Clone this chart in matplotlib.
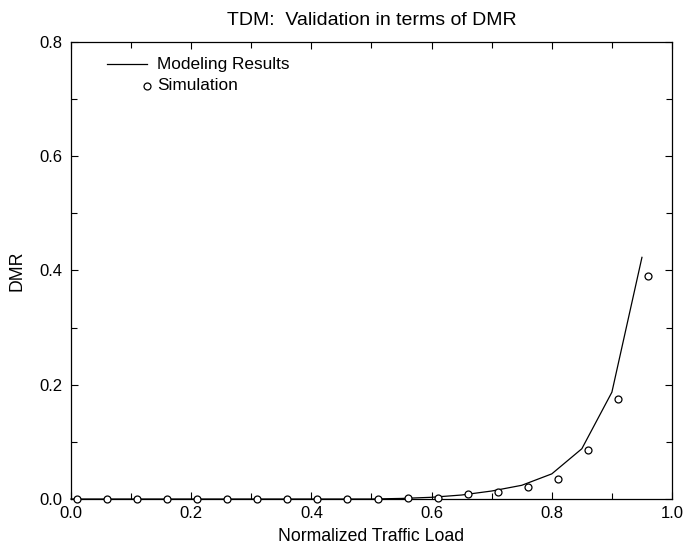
import matplotlib
matplotlib.use("Agg")
import matplotlib.pyplot as plt
from matplotlib.ticker import MultipleLocator

# ── data ──────────────────────────────────────────────────────────
model_load = [0.00, 0.05, 0.10, 0.15, 0.20, 0.25, 0.30, 0.35, 0.40, 0.45,
              0.50, 0.55, 0.60, 0.65, 0.70, 0.75, 0.80, 0.85, 0.90, 0.95]
model_dmr  = [0.000, 0.000, 0.000, 0.000, 0.000, 0.000, 0.000, 0.000, 0.000, 0.000,
              0.000, 0.001, 0.003, 0.007, 0.014, 0.024, 0.044, 0.088, 0.187, 0.423]

sim_load = [0.01, 0.06, 0.11, 0.16, 0.21, 0.26, 0.31, 0.36, 0.41, 0.46,
            0.51, 0.56, 0.61, 0.66, 0.71, 0.76, 0.81, 0.86, 0.91, 0.96]
sim_dmr  = [0.000, 0.000, 0.000, 0.000, 0.000, 0.000, 0.000, 0.000, 0.000, 0.000,
            0.000, 0.001, 0.002, 0.008, 0.013, 0.021, 0.035, 0.086, 0.175, 0.390]

plt.rcParams["font.family"] = ["Liberation Sans", "DejaVu Sans"]

fig = plt.figure(figsize=(7.0, 5.48), dpi=100)
ax = fig.add_axes([0.1014, 0.0894, 0.8586, 0.834])

ax.plot(model_load, model_dmr, color="black", linewidth=0.9, clip_on=False)
ax.plot(sim_load, sim_dmr, linestyle="none", marker="o", markersize=5,
        markerfacecolor="white", markeredgecolor="black", markeredgewidth=0.9,
        clip_on=False, zorder=3)

ax.set_xlim(0, 1.0)
ax.set_ylim(0, 0.8)
ax.xaxis.set_major_locator(MultipleLocator(0.2))
ax.xaxis.set_minor_locator(MultipleLocator(0.1))
ax.yaxis.set_major_locator(MultipleLocator(0.2))
ax.yaxis.set_minor_locator(MultipleLocator(0.1))
ax.xaxis.set_major_formatter(plt.FormatStrFormatter("%.1f"))
ax.yaxis.set_major_formatter(plt.FormatStrFormatter("%.1f"))
ax.tick_params(which="both", direction="in", top=True, right=True,
               labelsize=12, width=0.8)
ax.tick_params(which="major", length=5)
ax.tick_params(which="minor", length=4)
ax.tick_params(axis="x", which="major", pad=5)
ax.tick_params(axis="y", which="major", pad=6)
for s in ax.spines.values():
    s.set_linewidth(0.9)

ax.set_xlabel("Normalized Traffic Load", fontsize=12.7, labelpad=5)
ax.set_ylabel("DMR", fontsize=12.7, labelpad=10)
ax.set_title("TDM:  Validation in terms of DMR", fontsize=14, pad=12)

# legend drawn by hand (marker sits at the end of the line sample)
ax.plot([0.060, 0.127], [0.951, 0.951], transform=ax.transAxes,
        color="black", linewidth=0.9)
ax.text(0.143, 0.951, "Modeling Results", transform=ax.transAxes,
        fontsize=12.4, va="center")
ax.plot([0.127], [0.904], transform=ax.transAxes, marker="o", markersize=5,
        markerfacecolor="white", markeredgecolor="black", markeredgewidth=0.9)
ax.text(0.143, 0.904, "Simulation", transform=ax.transAxes,
        fontsize=12.4, va="center")

fig.savefig("out.png", dpi=100)
